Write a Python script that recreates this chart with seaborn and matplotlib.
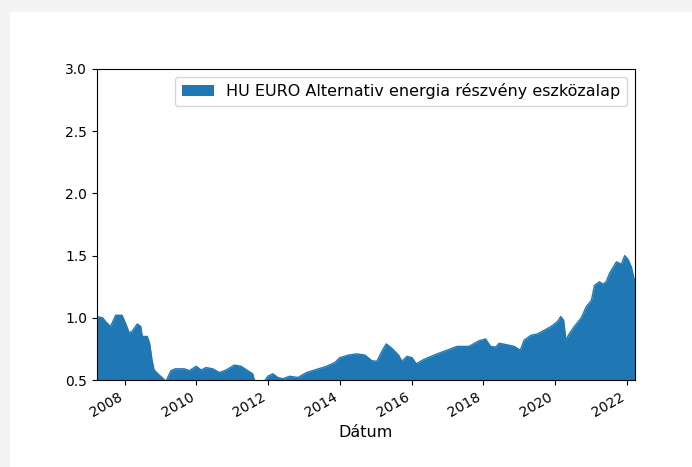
import matplotlib
matplotlib.use("Agg")
import matplotlib.pyplot as plt
import matplotlib.dates as mdates
from matplotlib.patches import Rectangle
import numpy as np
import pandas as pd
import seaborn as sns

series_name = "HU EURO Alternativ energia részvény eszközalap"

dates = [
    "2007-03-25", "2007-05-20", "2007-07-01", "2007-08-10", "2007-10-01", "2007-12-05",
    "2008-01-10", "2008-02-15", "2008-03-15", "2008-05-08", "2008-06-12", "2008-06-28",
    "2008-08-18", "2008-09-12", "2008-10-05", "2008-10-27", "2008-12-17", "2009-01-15",
    "2009-02-25", "2009-04-16", "2009-05-30", "2009-08-30", "2009-10-20", "2009-12-28",
    "2010-02-18", "2010-04-08", "2010-06-15", "2010-08-22", "2010-10-30", "2011-01-22",
    "2011-04-01", "2011-06-06", "2011-07-27", "2011-08-14", "2011-10-05", "2011-11-25",
    "2011-12-28", "2012-02-18", "2012-04-08", "2012-05-30", "2012-08-07", "2012-10-30",
    "2013-01-26", "2013-05-08", "2013-08-18", "2013-11-10", "2014-01-01", "2014-03-28",
    "2014-06-21", "2014-09-13", "2014-11-21", "2015-01-12", "2015-03-04", "2015-04-17",
    "2015-06-13", "2015-08-21", "2015-09-24", "2015-11-14", "2016-01-05", "2016-02-17",
    "2016-05-03", "2016-09-17", "2016-12-28", "2017-04-08", "2017-08-07", "2017-11-17",
    "2018-01-23", "2018-03-15", "2018-05-08", "2018-06-10", "2018-08-18", "2018-11-10",
    "2019-01-12", "2019-02-20", "2019-05-01", "2019-07-06", "2019-09-13", "2019-11-21",
    "2020-01-26", "2020-02-28", "2020-03-28", "2020-04-20", "2020-05-15", "2020-07-15",
    "2020-09-24", "2020-11-14", "2021-01-05", "2021-02-06", "2021-03-28", "2021-05-01",
    "2021-06-05", "2021-07-10", "2021-09-17", "2021-11-07", "2021-12-10", "2022-01-12",
    "2022-02-15", "2022-03-25",
]

values = [
    1.01, 1.00, 0.96, 0.93, 1.02, 1.02,
    0.955, 0.88, 0.89, 0.95, 0.93, 0.85,
    0.85, 0.79, 0.66, 0.58, 0.54, 0.52,
    0.49, 0.575, 0.59, 0.59, 0.575, 0.61,
    0.58, 0.60, 0.59, 0.56, 0.58, 0.62,
    0.61, 0.575, 0.55, 0.50, 0.48, 0.49,
    0.53, 0.55, 0.52, 0.51, 0.53, 0.52,
    0.56, 0.585, 0.61, 0.64, 0.68, 0.70,
    0.71, 0.70, 0.655, 0.65, 0.73, 0.79,
    0.755, 0.70, 0.65, 0.69, 0.68, 0.63,
    0.665, 0.71, 0.74, 0.77, 0.77, 0.815,
    0.83, 0.77, 0.765, 0.795, 0.785, 0.77,
    0.74, 0.82, 0.86, 0.87, 0.90, 0.93,
    0.97, 1.01, 0.98, 0.82, 0.86, 0.93,
    1.00, 1.09, 1.14, 1.26, 1.29, 1.27,
    1.29, 1.36, 1.45, 1.43, 1.50, 1.47,
    1.41, 1.28,
]

x_label = "Dátum"
y_limits = (0.5, 3.0)

df = pd.DataFrame({"Dátum": pd.to_datetime(dates), "value": values})

fig = plt.figure(figsize=(6.92, 4.67), dpi=100, facecolor="white")
# notebook-like gray frame
fig.patches.append(Rectangle((0, 0), 1, 1, transform=fig.transFigure,
                             facecolor="#f4f4f4", edgecolor="none", zorder=-10))
fig.patches.append(Rectangle((10 / 692, 0), 1, 1 - 12 / 467, transform=fig.transFigure,
                             facecolor="white", edgecolor="none", zorder=-9))

ax = fig.add_axes([97 / 692, 1 - 380 / 467, 538 / 692, 311 / 467])
color = "#1f77b4"
sns.lineplot(data=df, x="Dátum", y="value", ax=ax, color=color, linewidth=1, legend=False)
ax.fill_between(df["Dátum"], df["value"], 0, color=color, linewidth=0, label=series_name)

ax.set_xlim(df["Dátum"].iloc[0], df["Dátum"].iloc[-1])
ax.set_ylim(*y_limits)
ax.set_yticks(np.arange(0.5, 3.01, 0.5))
ax.xaxis.set_major_locator(mdates.YearLocator(2))
ax.xaxis.set_major_formatter(mdates.DateFormatter("%Y"))
for lbl in ax.get_xticklabels():
    lbl.set_rotation(30)
    lbl.set_ha("right")
ax.set_xlabel(x_label, fontsize=11.5)
ax.set_ylabel("")
ax.legend(loc="upper right", fontsize=11.5)

fig.savefig("out.png", dpi=100, facecolor=fig.get_facecolor())
